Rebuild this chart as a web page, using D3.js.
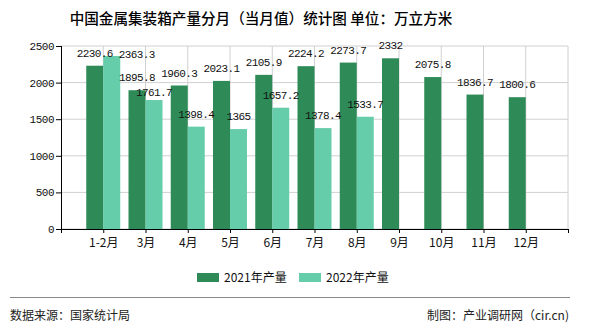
<!DOCTYPE html>
<html>
<head>
<meta charset="utf-8">
<script src="https://cdn.jsdelivr.net/npm/d3@7"></script>
<style>
  body { margin: 0; background: #fff; }
  text { font-family: "Noto Sans CJK SC", "Noto Sans", sans-serif; }
  .num { font-family: "Liberation Mono", "DejaVu Sans Mono", monospace; }
</style>
</head>
<body>
<div id="chart"></div>
<script>
// data
var months = ['1-2月', '3月', '4月', '5月', '6月', '7月', '8月', '9月', '10月', '11月', '12月']
var seriesNames = ['2021年产量', '2022年产量']
var values2021 = [2230.6, 1895.8, 1960.3, 2023.1, 2105.9, 2224.2, 2273.7, 2332, 2075.8, 1836.7, 1800.6]
var values2022 = [2363.3, 1761.7, 1398.4, 1365, 1657.2, 1378.4, 1533.7, null, null, null, null]
var yTicks = [0, 500, 1000, 1500, 2000, 2500]
var colors = ['#2e8b57', '#66cdaa']

var width = 590
var height = 330
var margin = { top: 46, right: 22, bottom: 101, left: 61 }
var innerW = width - margin.left - margin.right
var innerH = height - margin.top - margin.bottom

var svg = d3.select('#chart')
  .append('svg')
  .attr('width', width)
  .attr('height', height)

svg.append('text')
  .attr('x', 261)
  .attr('y', 24)
  .attr('text-anchor', 'middle')
  .style('font-size', '14.6px')
  .style('font-weight', '500')
  .attr('fill', '#000')
  .text('中国金属集装箱产量分月（当月值）统计图 单位：万立方米')

var g = svg.append('g')
  .attr('transform', 'translate(' + margin.left + ',' + margin.top + ')')

// empty slots at both ends so months sit between gridlines like the original
var xScale = d3.scalePoint()
  .domain(['_start'].concat(months, ['_end']))
  .range([0, innerW])
var yScale = d3.scaleLinear()
  .domain([0, 2500])
  .range([innerH, 0])

var barW = 17

// gridlines
g.selectAll('.hgrid')
  .data(yTicks)
  .enter()
  .append('line')
  .attr('x1', 0)
  .attr('x2', innerW)
  .attr('y1', d => yScale(d))
  .attr('y2', d => yScale(d))
  .attr('stroke', '#d0d0d0')
g.selectAll('.vgrid')
  .data(xScale.domain().slice(1))
  .enter()
  .append('line')
  .attr('x1', d => xScale(d))
  .attr('x2', d => xScale(d))
  .attr('y1', 0)
  .attr('y2', innerH)
  .attr('stroke', '#d0d0d0')

var rows = []
months.forEach(function (m, i) {
  rows.push({ month: m, s: 0, v: values2021[i] })
  if (values2022[i] != null) rows.push({ month: m, s: 1, v: values2022[i] })
})

g.selectAll('rect.bar')
  .data(rows)
  .enter()
  .append('rect')
  .attr('class', 'bar')
  .attr('x', d => xScale(d.month) + (d.s === 0 ? -barW : 0))
  .attr('y', d => yScale(d.v))
  .attr('width', barW)
  .attr('height', d => innerH - yScale(d.v))
  .attr('fill', d => colors[d.s])

// a couple of labels were pushed aside in the original to avoid overlaps
var nudge = {
  '1|1-2月': [25, 11],
  '1|3月': [0, 5]
}

g.selectAll('text.lbl')
  .data(rows)
  .enter()
  .append('text')
  .attr('class', 'lbl num')
  .attr('x', function (d) {
    var n = nudge[d.s + '|' + d.month] || [0, 0]
    return xScale(d.month) + (d.s === 0 ? -barW / 2 : barW / 2) + n[0]
  })
  .attr('y', function (d) {
    var n = nudge[d.s + '|' + d.month] || [0, 0]
    return yScale(d.v) - 9 + n[1]
  })
  .attr('text-anchor', 'middle')
  .style('font-size', '11px')
  .style('letter-spacing', '-0.6px')
  .attr('fill', '#111')
  .text(d => d.v)

// axes
var yAxis = d3.axisLeft(yScale)
  .tickValues(yTicks)
  .tickFormat(d3.format('d'))
  .tickSize(5)
  .tickPadding(2)
g.append('g')
  .attr('class', 'axis y-axis')
  .call(yAxis)
  .call(sel => sel.select('.domain').attr('stroke', '#000').attr('d', 'M0.5,0V' + innerH))
  .selectAll('text')
  .attr('class', 'num')
  .style('font-size', '11px')
  .style('letter-spacing', '-0.5px')
  .attr('fill', '#111')

var xAxis = d3.axisBottom(xScale)
  .tickSize(4)
  .tickPadding(5)
  .tickFormat(d => d.charAt(0) === '_' ? '' : d)
g.append('g')
  .attr('class', 'axis x-axis')
  .attr('transform', 'translate(0,' + innerH + ')')
  .call(xAxis)
  .call(sel => sel.select('.domain').attr('stroke', '#000').attr('d', 'M0,0.5H' + innerW))
  .selectAll('text')
  .style('font-size', '12px')
  .attr('fill', '#111')

// legend
var legend = svg.append('g')
  .selectAll('g')
  .data(seriesNames)
  .enter()
  .append('g')
  .attr('transform', (d, i) => 'translate(' + (197 + i * 102) + ',273)')
legend.append('rect')
  .attr('width', 22)
  .attr('height', 9)
  .attr('fill', (d, i) => colors[i])
legend.append('text')
  .attr('x', 27)
  .attr('y', 9)
  .style('font-size', '12px')
  .attr('fill', '#111')
  .text(d => d)

// footer
svg.append('line')
  .attr('x1', 10)
  .attr('x2', 570)
  .attr('y1', 297.5)
  .attr('y2', 297.5)
  .attr('stroke', '#888')
svg.append('text')
  .attr('x', 10)
  .attr('y', 320)
  .style('font-size', '12px')
  .attr('fill', '#222')
  .text('数据来源：国家统计局')
svg.append('text')
  .attr('x', 569)
  .attr('y', 320)
  .attr('text-anchor', 'end')
  .style('font-size', '12px')
  .attr('fill', '#222')
  .text('制图：产业调研网（cir.cn)')
</script>
</body>
</html>
